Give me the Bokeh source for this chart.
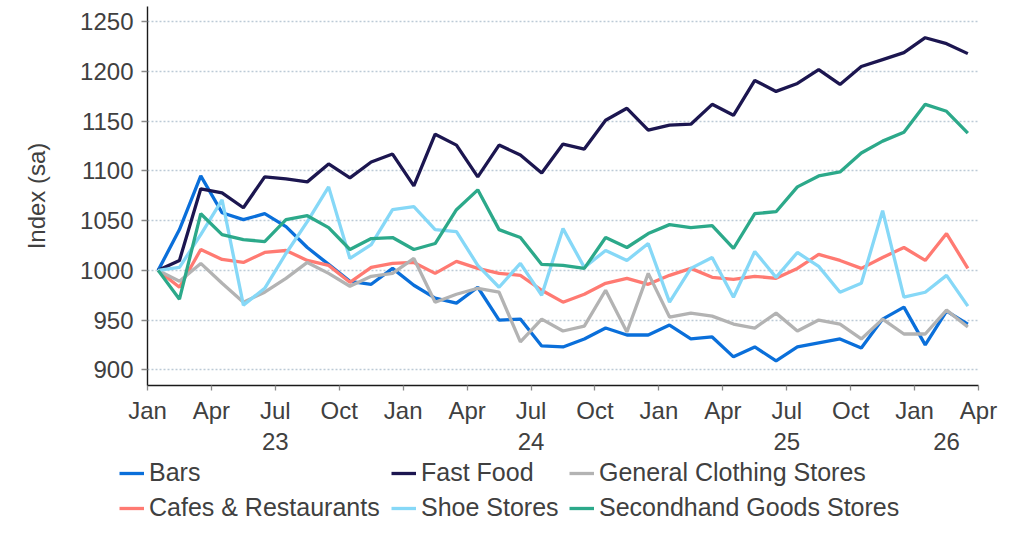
from bokeh.plotting import figure
from bokeh.models import Range1d, FixedTicker, Legend, LegendItem, LinearAxis
from bokeh.layouts import column, row
from bokeh.embed import file_html
from bokeh.resources import INLINE

# ---- data (monthly, Jan 2023 .. Mar 2026) ----
years = [2023, 2024, 2025, 2026]
months_per_year = [12, 12, 12, 3]
quarter_names = ["Jan", "Apr", "Jul", "Oct"]

bars = [1000, 1041, 1095, 1058, 1051, 1057, 1044, 1023, 1006, 989, 986, 1002,
        985, 972, 967, 983, 950, 951, 924, 923, 931, 942, 935, 935,
        945, 931, 933, 913, 923, 909, 923, 927, 931, 922, 951, 963,
        925, 959, 946]
fast_food = [1000, 1010, 1082, 1078, 1063, 1094, 1092, 1089, 1107, 1093, 1109, 1117,
             1085, 1137, 1126, 1094, 1126, 1116, 1098, 1127, 1122, 1151, 1163, 1141,
             1146, 1147, 1167, 1156, 1191, 1180, 1188, 1202, 1187, 1205, 1212, 1219,
             1234, 1228, 1218]
general_clothing = [1000, 989, 1007, 987, 968, 978, 992, 1008, 997, 984, 994, 997,
                    1012, 968, 976, 982, 978, 928, 951, 939, 944, 980, 938, 997,
                    953, 957, 954, 946, 942, 957, 939, 950, 946, 931, 951, 936,
                    936, 960, 943]
cafes = [1000, 983, 1021, 1011, 1008, 1018, 1020, 1010, 1005, 988, 1003, 1007,
         1008, 997, 1009, 1002, 997, 995, 980, 968, 976, 987, 992, 986,
         995, 1002, 993, 991, 994, 992, 1002, 1016, 1010, 1002, 1013, 1023,
         1010, 1037, 1002]
shoe = [1000, 1003, 1036, 1071, 965, 982, 1017, 1049, 1084, 1012, 1026, 1061,
        1064, 1041, 1039, 1005, 983, 1007, 975, 1042, 1003, 1020, 1010, 1027,
        968, 1002, 1013, 973, 1019, 993, 1018, 1004, 978, 987, 1060, 973,
        978, 995, 964]
secondhand = [1000, 971, 1057, 1036, 1031, 1029, 1051, 1055, 1043, 1021, 1032, 1033,
              1021, 1027, 1061, 1081, 1041, 1033, 1006, 1005, 1002, 1033, 1023, 1037,
              1046, 1043, 1045, 1022, 1057, 1059, 1084, 1095, 1099, 1118, 1130, 1139,
              1167, 1160, 1138]

series = [
    ("Bars", bars, "#0A6FDA"),
    ("Cafes & Restaurants", cafes, "#FF7A72"),
    ("Fast Food", fast_food, "#1C1650"),
    ("General Clothing Stores", general_clothing, "#B3B3B3"),
    ("Shoe Stores", shoe, "#86D8F7"),
    ("Secondhand Goods Stores", secondhand, "#2CA98A"),
]
legend_columns = [["Bars", "Cafes & Restaurants"],
                  ["Fast Food", "Shoe Stores"],
                  ["General Clothing Stores", "Secondhand Goods Stores"]]
y_ticks = [900, 950, 1000, 1050, 1100, 1150, 1200, 1250]

# ---- derived positions ----
n = len(bars)
x = [i + 0.5 for i in range(n)]  # mid-month
n_axis_months = n  # axis runs from start of Jan 2023 to start of Apr 2026
x_ticks = list(range(0, n_axis_months + 1, 3))
overrides = {t: quarter_names[(t // 3) % 4] for t in x_ticks}
year_centers = []
start = 0
for m in months_per_year:
    year_centers.append(start + m / 2)
    start += m
year_overrides = {c: str(yr)[2:] for c, yr in zip(year_centers, years)}

FONT = "Liberation Sans"
TXT = "#404040"
W = 1004

p = figure(width=W, height=457, output_backend="svg", toolbar_location=None,
           x_range=Range1d(0, n_axis_months), y_range=Range1d(884.2, 1265.4),
           min_border_left=147, min_border_right=26, min_border_top=6,
           min_border_bottom=72)
p.outline_line_color = None
p.xgrid.visible = False
p.ygrid.grid_line_color = "#bccad6"
p.ygrid.grid_line_dash = "2 2"
p.ygrid.grid_line_width = 1.3

p.yaxis.ticker = FixedTicker(ticks=y_ticks)
p.xaxis.ticker = FixedTicker(ticks=x_ticks)
p.xaxis.major_label_overrides = overrides

for ax in (p.xaxis, p.yaxis):
    ax.major_label_text_font = FONT
    ax.major_label_text_font_size = "24px"
    ax.major_label_text_color = TXT
    ax.major_tick_in = 0
    ax.minor_tick_line_color = None
    ax.major_tick_line_color = "#8a8a8a"
    ax.major_tick_line_width = 1.3
    ax.axis_line_color = "#1a1a1a"
    ax.axis_line_width = 1.4
p.yaxis.major_label_standoff = 8
p.xaxis.major_label_standoff = 6
p.yaxis.major_tick_out = 6
p.xaxis.major_tick_out = 5
p.yaxis.axis_label = "Index (sa)"
p.yaxis.axis_label_text_font = FONT
p.yaxis.axis_label_text_font_size = "24px"
p.yaxis.axis_label_text_font_style = "normal"
p.yaxis.axis_label_text_color = TXT
p.yaxis.axis_label_standoff = 27

# second axis row for year labels
year_axis = LinearAxis(ticker=FixedTicker(ticks=year_centers),
                       major_label_overrides=year_overrides,
                       axis_line_color=None, major_tick_line_color=None,
                       minor_tick_line_color=None, major_tick_in=0, major_tick_out=0,
                       major_label_standoff=6,
                       major_label_text_font=FONT, major_label_text_font_size="24px",
                       major_label_text_color=TXT)
p.add_layout(year_axis, "below")

for name, vals, color in series:
    p.line(x, vals, line_color=color, line_width=3.3)

# ---- legend strip (series keys kept outside this strip's visible y range) ----
p2 = figure(width=W, height=66, output_backend="svg", toolbar_location=None,
            x_axis_type=None, y_axis_type=None,
            x_range=Range1d(0, n_axis_months), y_range=Range1d(0, 1),
            min_border=0, min_border_left=0, min_border_right=0,
            min_border_top=0, min_border_bottom=0)
p2.outline_line_color = None
p2.grid.visible = False
keys = {name: p2.line(x, vals, line_color=color, line_width=3.3)
        for name, vals, color in series}
col_x = [119, 391, 569]
for names, lx in zip(legend_columns, col_x):
    leg = Legend(items=[LegendItem(label=nm, renderers=[keys[nm]]) for nm in names],
                 location=(lx, 1), orientation="vertical",
                 glyph_width=25, glyph_height=20, label_standoff=5, spacing=6,
                 padding=0, margin=0, border_line_color=None,
                 background_fill_alpha=0, label_height=28,
                 label_text_font=FONT, label_text_font_size="25px",
                 label_text_color=TXT)
    p2.add_layout(leg)

open("out.html", "w").write(file_html(column(p, row(p2)), INLINE))
